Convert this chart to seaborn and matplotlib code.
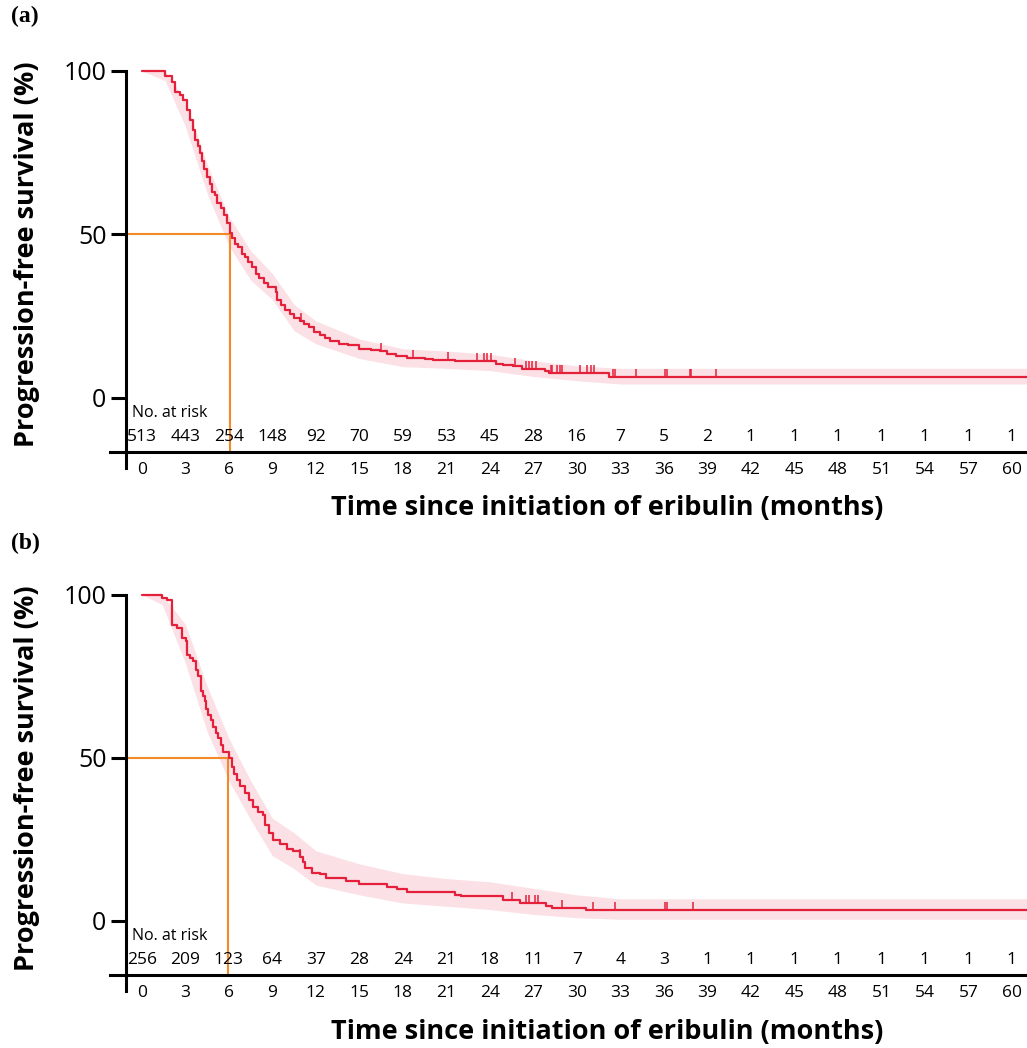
import matplotlib
matplotlib.use("Agg")

import numpy as np
import matplotlib.pyplot as plt
import seaborn as sns

# ---- data ----
xticks = list(range(0, 61, 3))

# (a) all patients
km_time_a = [0, 1.6, 2.1, 2.3, 2.6, 2.85, 3.1, 3.3, 3.5, 3.66, 3.85, 4.0, 4.12, 4.3, 4.5, 4.7,
             4.85, 5.05, 5.2, 5.45, 5.65, 5.85, 6.05, 6.2, 6.4, 6.6, 6.9, 7.1, 7.3, 7.6, 7.9,
             8.1, 8.4, 8.7, 9.25, 9.3, 9.6, 9.9, 10.2, 10.5, 10.9, 11.2, 11.5, 11.9, 12.3,
             12.6, 13.0, 13.6, 14.2, 15.0, 15.8, 16.4, 16.9, 17.5, 18.25, 19.5, 20.1, 21.6,
             24.4, 24.9, 25.6, 26.2, 27.8, 28.1, 32.2, 61.5]
km_surv_a = [100, 98.5, 96.5, 93.5, 92.5, 91, 88, 85, 82, 79, 77, 75, 72.5, 70, 67.5, 65.5,
             63, 62, 59.5, 58, 56, 53.5, 50.5, 49, 47, 46, 44, 43, 41.5, 40, 38,
             36.5, 35, 34, 32.5, 30, 28.5, 27, 25.5, 24.5, 23.5, 22.5, 21.5, 20, 19.3,
             18.2, 17.5, 16.5, 16, 15, 14.6, 14.2, 13.5, 12.8, 12.1, 11.8, 11.6, 11.1,
             10.4, 9.9, 9.6, 8.9, 8.1, 7.5, 6.3, 6.3]
ci_time_a = [0, 1.6, 3, 4.5, 6, 7.5, 9, 10.5, 12, 15, 18, 21, 24, 27, 30, 33, 36, 61.5]
ci_hi_a = [100, 100, 91, 71.5, 55.5, 45, 38, 28.5, 23.5, 18, 15, 14.3, 13.3, 11.3, 9.8, 9.0, 9.0, 9.0]
ci_lo_a = [100, 97, 83, 62.5, 46.5, 36, 30, 20.5, 16.5, 12, 9.5, 9.0, 8.3, 6.5, 5.2, 4.2, 4.2, 4.2]
censor_a = [11.0, 16.5, 18.7, 21.1, 23.1, 23.6, 23.8, 24.1, 25.7, 26.5, 26.7, 26.9, 27.2, 28.2,
            28.3, 28.6, 28.8, 29.0, 30.2, 30.7, 31.0, 31.2, 32.5, 32.6, 34.1, 36.1, 36.2,
            37.8, 37.9, 39.6]
at_risk_a = [513, 443, 254, 148, 92, 70, 59, 53, 45, 28, 16, 7, 5, 2, 1, 1, 1, 1, 1, 1, 1]
median_a = 6.05

# (b) subgroup
km_time_b = [0, 1.42, 1.7, 2.05, 2.1, 2.4, 2.74, 3.03, 3.08, 3.3, 3.54, 3.75, 3.89, 4.05, 4.2,
             4.34, 4.45, 4.57, 4.75, 4.92, 5.1, 5.26, 5.45, 5.6, 6.0, 6.18, 6.35, 6.53, 6.8,
             7.1, 7.4, 7.68, 8.0, 8.37, 8.48, 8.75, 9.06, 9.5, 9.98, 10.4, 10.9, 11.1, 11.24,
             11.7, 12.3, 12.7, 14.1, 15.0, 16.9, 17.6, 18.3, 21.6, 22.0, 24.9, 26.1, 27.9,
             28.3, 30.6, 61.5]
km_surv_b = [100, 99, 98.5, 97.1, 90.8, 89.8, 86.7, 85.7, 81.6, 80.5, 79.6, 77, 75, 70.4, 69,
             67.3, 65, 63.2, 61.5, 59.6, 57.5, 56, 54, 51.9, 49.9, 47.3, 45, 43.3, 41.5,
             39.1, 37, 35, 33.5, 32.5, 29.4, 27, 24.8, 23.5, 22.2, 21.6, 19.7, 18.2, 16.2,
             14.8, 14.4, 13.1, 12.3, 11.2, 10.3, 9.7, 8.8, 8.0, 7.5, 6.4, 5.4, 4.6,
             3.9, 3.4, 3.4]
ci_time_b = [0, 1.4, 3, 4.5, 6, 7.5, 9, 10.5, 12, 15, 18, 21, 24, 27, 30, 33, 61.5]
ci_hi_b = [100, 100, 91, 72, 56, 43, 31.5, 27, 21.5, 17.5, 14.5, 13, 12, 10, 8, 6.8, 6.8]
ci_lo_b = [100, 97, 79, 58, 43, 31, 20, 16, 11, 8, 5.5, 4.5, 3.5, 2, 1, 0.5, 0.5]
censor_b = [10.9, 25.5, 26.5, 26.7, 27.1, 27.3, 29.0, 31.1, 32.6, 36.1, 36.2, 38.0]
at_risk_b = [256, 209, 123, 64, 37, 28, 24, 21, 18, 11, 7, 4, 3, 1, 1, 1, 1, 1, 1, 1, 1]
median_b = 5.95

RED = "#E4203A"
BAND = "#FBE1E5"
ORANGE = "#F28A25"

sns.set_style("white")
plt.rcParams["font.family"] = ["Open Sans", "DejaVu Sans"]
plt.rcParams["text.color"] = "black"
plt.rcParams["xtick.color"] = "black"
plt.rcParams["ytick.color"] = "black"

fig = plt.figure(figsize=(10.27, 10.48), dpi=100)

YMIN, YMAX = -21.6, 100.5
AXIS_Y = -16.7
YAXIS_X = -1.1


def draw_panel(ax, t, s, ct, lo, hi, cens, risk, med):
    ax.fill_between(ct, lo, hi, color=BAND, lw=0, zorder=1)
    sns.lineplot(x=t, y=s, drawstyle="steps-post", color=RED, lw=1.6, ax=ax,
                 sort=False, estimator=None, zorder=3)
    # censor marks sit on the step curve
    idx = np.searchsorted(t, cens, side="right") - 1
    cy = np.asarray(s)[idx]
    ax.plot(cens, cy, ls="none", marker=[(0, 0), (0, 1)], ms=11, mew=1.1,
            color=RED, zorder=3)

    # median guide
    ax.plot([YAXIS_X, med, med], [50, 50, AXIS_Y], color=ORANGE, lw=1.5, zorder=2)

    ax.set_xlim(-2.2, 61.04)
    ax.set_ylim(YMIN, YMAX)
    for side in ["top", "right"]:
        ax.spines[side].set_visible(False)
    ax.spines["left"].set_position(("data", YAXIS_X))
    ax.spines["left"].set_bounds(YMIN, 100)
    ax.spines["bottom"].set_position(("data", AXIS_Y))
    for side in ["left", "bottom"]:
        ax.spines[side].set_linewidth(2.2)
        ax.spines[side].set_color("black")

    ax.set_yticks([0, 50, 100])
    ax.tick_params(axis="y", direction="out", length=11, width=2.2, pad=3,
                   labelsize=18, left=True)
    ax.set_xticks(xticks)
    ax.tick_params(axis="x", length=0, pad=7, labelsize=12.5)
    ax.set_xlabel("")
    ax.set_ylabel("")

    ax.text(-0.7, -4.6, "No. at risk", fontsize=11.5, ha="left", va="center")
    for x, n in zip(xticks, risk):
        ax.text(x, -12, str(n), fontsize=12.5, ha="center", va="center")


ax_a = fig.add_axes([0.1071, 0.5531, 0.8929, 0.3808])
draw_panel(ax_a, km_time_a, km_surv_a, ci_time_a, ci_lo_a, ci_hi_a, censor_a,
           at_risk_a, median_a)
ax_b = fig.add_axes([0.1071, 0.0540, 0.8929, 0.3800])
draw_panel(ax_b, km_time_b, km_surv_b, ci_time_b, ci_lo_b, ci_hi_b, censor_b,
           at_risk_b, median_b)

for tag, tag_y, ycen, xcen_y in [("(a)", 16, 254, 508), ("(b)", 543, 778, 1032)]:
    fig.text(11 / 1027, 1 - tag_y / 1048, tag, fontsize=17, fontweight="bold",
             family="Liberation Serif", ha="left", va="center")
    fig.text(27 / 1027, 1 - ycen / 1048, "Progression-free survival (%)", rotation=90,
             fontsize=19.5, fontweight="bold", ha="center", va="center")
    fig.text(607 / 1027, 1 - xcen_y / 1048, "Time since initiation of eribulin (months)",
             fontsize=19.5, fontweight="bold", ha="center", va="center")

fig.savefig("out.png", dpi=100)
